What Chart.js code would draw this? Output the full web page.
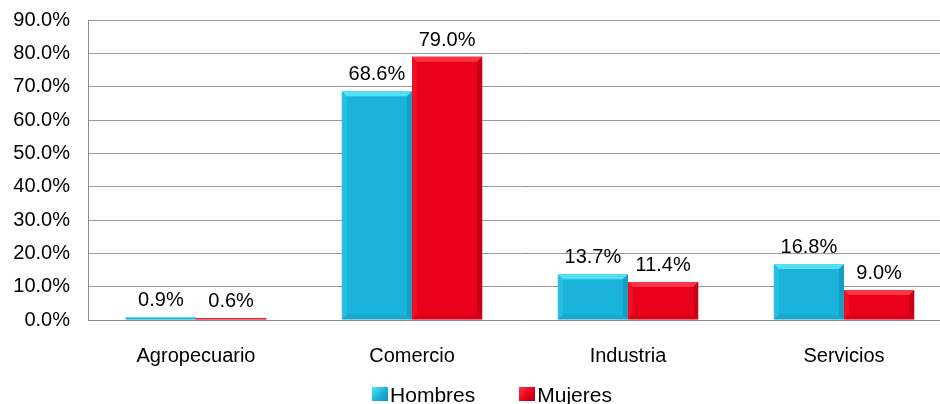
<!DOCTYPE html>
<html>
<head>
<meta charset="utf-8">
<script src="https://cdn.jsdelivr.net/npm/chart.js@4.4.0/dist/chart.umd.min.js"></script>
<style>
  body { margin: 0; background: #fff; overflow: hidden; }
  #wrap { position: relative; width: 940px; height: 404px; overflow: hidden; }
  #leyenda {
    position: absolute; left: 0; top: 383px; width: 984px;
    display: flex; justify-content: center; gap: 44px;
    font-family: "Liberation Sans", Arial, sans-serif; font-size: 21px; color: #000;
  }
  .item { display: flex; align-items: flex-start; line-height: 24px; }
  .caja { width: 16px; height: 14px; margin-right: 2px; margin-top: 4px; }
</style>
</head>
<body>
<div id="wrap">
  <!-- el lienzo es algo más ancho: el área de trazado queda cortada a la derecha -->
  <canvas id="grafico" width="952" height="404"></canvas>
  <div id="leyenda"></div>
</div>
<script>
// datos por sector
var sectores = ['Agropecuario', 'Comercio', 'Industria', 'Servicios'];
var hombres = [0.9, 68.6, 13.7, 16.8];
var mujeres = [0.6, 79.0, 11.4, 9.0];
var series = ['Hombres', 'Mujeres'];

var colores = {
  Hombres: { base: '#1ab3d9', claro: '#5ae4f6', oscuro: '#1489ad' },
  Mujeres: { base: '#ea001b', claro: '#ff3a4c', oscuro: '#a8000f' }
};
var fuente = '"Liberation Sans", Arial, sans-serif';

// relieve de las barras (borde claro arriba, oscuro a la derecha)
var biselBarras = {
  id: 'biselBarras',
  afterDatasetsDraw: function (chart) {
    var ctx = chart.ctx;
    chart.data.datasets.forEach(function (ds, i) {
      var c = colores[ds.label];
      chart.getDatasetMeta(i).data.forEach(function (bar) {
        var p = bar.getProps(['x', 'y', 'base', 'width'], true);
        var l = p.x - p.width / 2, r = p.x + p.width / 2;
        var t = p.y, b = p.base;
        var h = b - t;
        var s = Math.min(5, h / 2);
        ctx.save();
        // arriba
        ctx.fillStyle = c.claro;
        ctx.globalAlpha = 0.9;
        ctx.beginPath();
        ctx.moveTo(l, t); ctx.lineTo(r, t); ctx.lineTo(r - s, t + s); ctx.lineTo(l + s, t + s);
        ctx.fill();
        // izquierda
        ctx.globalAlpha = 0.25;
        ctx.beginPath();
        ctx.moveTo(l, t); ctx.lineTo(l + s, t + s); ctx.lineTo(l + s, b - s); ctx.lineTo(l, b);
        ctx.fill();
        // derecha
        ctx.globalAlpha = 0.55;
        ctx.fillStyle = c.oscuro;
        ctx.beginPath();
        ctx.moveTo(r, t); ctx.lineTo(r - s, t + s); ctx.lineTo(r - s, b - s); ctx.lineTo(r, b);
        ctx.fill();
        // abajo
        ctx.globalAlpha = 0.25;
        ctx.beginPath();
        ctx.moveTo(l, b); ctx.lineTo(l + s, b - s); ctx.lineTo(r - s, b - s); ctx.lineTo(r, b);
        ctx.fill();
        ctx.restore();
      });
    });
  }
};

// etiquetas de valor encima de cada barra
var etiquetasValor = {
  id: 'etiquetasValor',
  afterDatasetsDraw: function (chart) {
    var ctx = chart.ctx;
    ctx.save();
    ctx.font = '20px ' + fuente;
    ctx.fillStyle = '#000';
    ctx.textAlign = 'center';
    ctx.textBaseline = 'alphabetic';
    chart.data.datasets.forEach(function (ds, i) {
      chart.getDatasetMeta(i).data.forEach(function (bar, j) {
        ctx.fillText(ds.data[j].toFixed(1) + '%', bar.x, bar.y - 11);
      });
    });
    ctx.restore();
  }
};

var grafico = new Chart(document.getElementById('grafico'), {
  type: 'bar',
  data: {
    labels: sectores,
    datasets: [
      { label: series[0], data: hombres, backgroundColor: colores.Hombres.base },
      { label: series[1], data: mujeres, backgroundColor: colores.Mujeres.base }
    ]
  },
  options: {
    responsive: false,
    animation: false,
    devicePixelRatio: 1,
    layout: { padding: { top: 20, bottom: 12, left: 0, right: 0 } },
    categoryPercentage: 0.65,
    barPercentage: 1,
    plugins: {
      legend: { display: false },
      tooltip: { enabled: false }
    },
    scales: {
      x: {
        grid: { display: false, drawTicks: false },
        border: { color: '#8c8c8c', width: 1 },
        ticks: { color: '#000', font: { family: fuente, size: 20 }, padding: 24 }
      },
      y: {
        min: 0,
        max: 90,
        afterFit: function (scale) {
          scale.width = 88;
          scale.paddingTop = 0;
          scale.paddingBottom = 0;
        },
        grid: { color: '#9a9a9a', lineWidth: 1, drawTicks: false },
        border: { color: '#8c8c8c', width: 1 },
        ticks: {
          stepSize: 10,
          color: '#000',
          padding: 18,
          font: { family: fuente, size: 20 },
          callback: function (v) { return v.toFixed(1) + '%'; }
        }
      }
    }
  },
  plugins: [biselBarras, etiquetasValor]
});

// leyenda
var leyenda = document.getElementById('leyenda');
series.forEach(function (nombre) {
  var c = colores[nombre];
  var item = document.createElement('div');
  item.className = 'item';
  var caja = document.createElement('span');
  caja.className = 'caja';
  caja.style.background = 'linear-gradient(135deg, ' + c.claro + ', ' + c.base + ' 55%, ' + c.oscuro + ')';
  item.appendChild(caja);
  item.appendChild(document.createTextNode(nombre));
  leyenda.appendChild(item);
});
</script>
</body>
</html>
